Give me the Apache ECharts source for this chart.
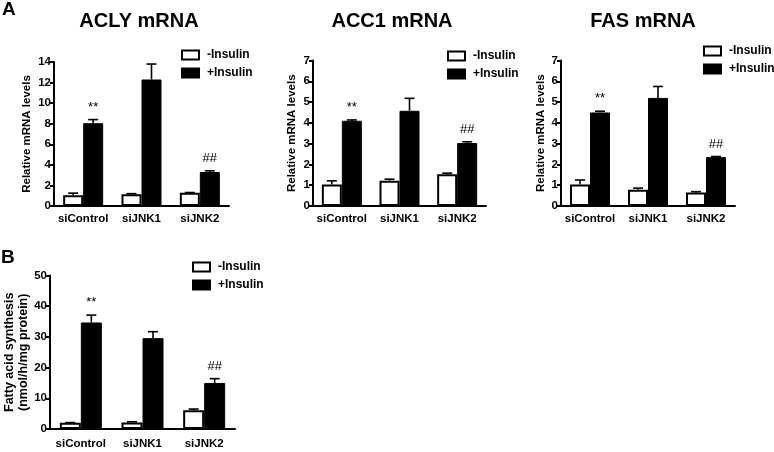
<!DOCTYPE html>
<html>
<head>
<meta charset="utf-8">
<script src="https://cdn.jsdelivr.net/npm/echarts@6/dist/echarts.min.js"></script>
<style>
  html, body { margin: 0; padding: 0; background: #fff; }
  #chart { width: 774px; height: 452px; }
</style>
</head>
<body>
<div id="chart"></div>
<script>
// 数据
const groups = ['siControl', 'siJNK1', 'siJNK2'];
const seriesNames = ['-Insulin', '+Insulin'];

const aclyMinus = [1.05, 1.15, 1.28];
const aclyMinusErr = [0.2, 0.05, 0.03];
const aclyPlus = [8.05, 12.3, 3.3];
const aclyPlusErr = [0.35, 1.5, 0.12];

const acc1Minus = [1.03, 1.22, 1.53];
const acc1MinusErr = [0.18, 0.07, 0.05];
const acc1Plus = [4.1, 4.58, 3.03];
const acc1PlusErr = [0.04, 0.6, 0.06];

const fasMinus = [1.03, 0.78, 0.65];
const fasMinusErr = [0.22, 0.08, 0.04];
const fasPlus = [4.5, 5.2, 2.35];
const fasPlusErr = [0.06, 0.55, 0.03];

const fasynMinus = [2.0, 2.1, 6.1];
const fasynMinusErr = [0.1, 0.25, 0.4];
const fasynPlus = [34.7, 29.6, 15.0];
const fasynPlusErr = [2.4, 2.1, 1.4];

const sigMarks = ['**', '', '##'];

const FONT = '"Liberation Sans", Arial, sans-serif';

// 面板布局
const panels = [
  { title: 'ACLY mRNA', titleX: 139, grid: { left: 54, top: 62, width: 175, height: 144 }, max: 14, interval: 2, yName: 'Relative mRNA levels', nameGap: 18,
    minus: aclyMinus, minusErr: aclyMinusErr, plus: aclyPlus, plusErr: aclyPlusErr, barW: 20, legend: { left: 176, top: 44 } },
  { title: 'ACC1 mRNA', titleX: 392, grid: { left: 313, top: 60.5, width: 173, height: 145.5 }, max: 7, interval: 1, yName: 'Relative mRNA levels', nameGap: 14,
    minus: acc1Minus, minusErr: acc1MinusErr, plus: acc1Plus, plusErr: acc1PlusErr, barW: 20, legend: { left: 442, top: 45 } },
  { title: 'FAS mRNA', titleX: 643, grid: { left: 561, top: 60.5, width: 174, height: 145.5 }, max: 7, interval: 1, yName: 'Relative mRNA levels', nameGap: 11,
    minus: fasMinus, minusErr: fasMinusErr, plus: fasPlus, plusErr: fasPlusErr, barW: 20, legend: { left: 698, top: 40 } },
  { title: null, grid: { left: 50, top: 275.5, width: 185, height: 153.5 }, max: 50, interval: 10, yName: 'Fatty acid synthesis\n(nmol/h/mg protein)', nameGap: 19,
    minus: fasynMinus, minusErr: fasynMinusErr, plus: fasynPlus, plusErr: fasynPlusErr, barW: 21, legend: { left: 187, top: 256 } },
];

function errRender(offset, marks) {
  return function (params, api) {
    const cat = api.value(0), v = api.value(1), e = api.value(2);
    const base = api.coord([cat, v]);
    const top = api.coord([cat, v + e]);
    const cx = base[0] + offset;
    const style = { stroke: '#000', lineWidth: 1.6 };
    const children = [
      { type: 'line', shape: { x1: cx, y1: base[1], x2: cx, y2: top[1] }, style },
      { type: 'line', shape: { x1: cx - 5, y1: top[1], x2: cx + 5, y2: top[1] }, style },
    ];
    const m = marks && marks[params.dataIndex];
    if (m) {
      children.push({ type: 'text', style: { text: m, x: cx, y: top[1] - 6, align: 'center', verticalAlign: 'bottom', fill: '#000', font: '13px ' + FONT } });
    }
    return { type: 'group', children };
  };
}

const grids = [], xAxes = [], yAxes = [], series = [], legends = [], graphics = [];

panels.forEach((p, i) => {
  grids.push(p.grid);
  xAxes.push({
    type: 'category', gridIndex: i, data: groups,
    axisLine: { lineStyle: { color: '#000', width: 2 } },
    axisTick: { show: false },
    axisLabel: { color: '#000', fontWeight: 'bold', fontSize: 11.5, fontFamily: FONT, margin: i === 3 ? 9 : 7, interval: 0 },
  });
  yAxes.push({
    type: 'value', gridIndex: i, min: 0, max: p.max, interval: p.interval,
    name: p.yName, nameLocation: 'middle', nameGap: p.nameGap, nameRotate: 90,
    nameTextStyle: { color: '#000', fontWeight: 'bold', fontSize: i === 3 ? 12.5 : 11.5, fontFamily: FONT, lineHeight: 14 },
    axisLine: { show: true, lineStyle: { color: '#000', width: 2 } },
    axisTick: { show: true, length: 4, lineStyle: { color: '#000', width: 2 } },
    axisLabel: { color: '#000', fontWeight: 'bold', fontSize: 11.5, fontFamily: FONT, margin: 3 },
    splitLine: { show: false },
  });
  series.push({
    name: seriesNames[0], type: 'bar', xAxisIndex: i, yAxisIndex: i, data: p.minus,
    barWidth: p.barW, barGap: '0%',
    itemStyle: { color: '#fff', borderColor: '#000', borderWidth: 2 },
    silent: true,
  });
  series.push({
    name: seriesNames[1], type: 'bar', xAxisIndex: i, yAxisIndex: i, data: p.plus,
    barWidth: p.barW, barGap: '0%',
    itemStyle: { color: '#000', borderColor: '#000', borderWidth: 1 },
    silent: true,
  });
  series.push({
    type: 'custom', xAxisIndex: i, yAxisIndex: i, z: 5, silent: true,
    data: p.minus.map((v, k) => [k, v, p.minusErr[k]]),
    renderItem: errRender(-p.barW / 2, null),
  });
  series.push({
    type: 'custom', xAxisIndex: i, yAxisIndex: i, z: 5, silent: true,
    data: p.plus.map((v, k) => [k, v, p.plusErr[k]]),
    renderItem: errRender(p.barW / 2, sigMarks),
  });
  legends.push({
    data: seriesNames.map(n => ({ name: n, icon: 'rect' })), orient: 'vertical', left: p.legend.left, top: p.legend.top,
    itemWidth: 17, itemHeight: 9, itemGap: 6, selectedMode: false,
    textStyle: { color: '#000', fontWeight: 'bold', fontSize: 12, fontFamily: FONT, padding: [0, 0, 0, 3] },
  });
  if (p.title) {
    graphics.push({ type: 'text', x: p.titleX, y: 21, style: { text: p.title, align: 'center', verticalAlign: 'middle', fill: '#000', font: 'bold 20px ' + FONT } });
  }
});

graphics.push({ type: 'text', x: 2, y: 10, style: { text: 'A', verticalAlign: 'middle', fill: '#000', font: 'bold 19px ' + FONT } });
graphics.push({ type: 'text', x: 1, y: 258, style: { text: 'B', verticalAlign: 'middle', fill: '#000', font: 'bold 19px ' + FONT } });

const chart = echarts.init(document.getElementById('chart'), null, { renderer: 'canvas' });
chart.setOption({
  backgroundColor: '#fff',
  animation: false,
  grid: grids,
  xAxis: xAxes,
  yAxis: yAxes,
  legend: legends,
  series,
  graphic: graphics,
});
</script>
</body>
</html>
